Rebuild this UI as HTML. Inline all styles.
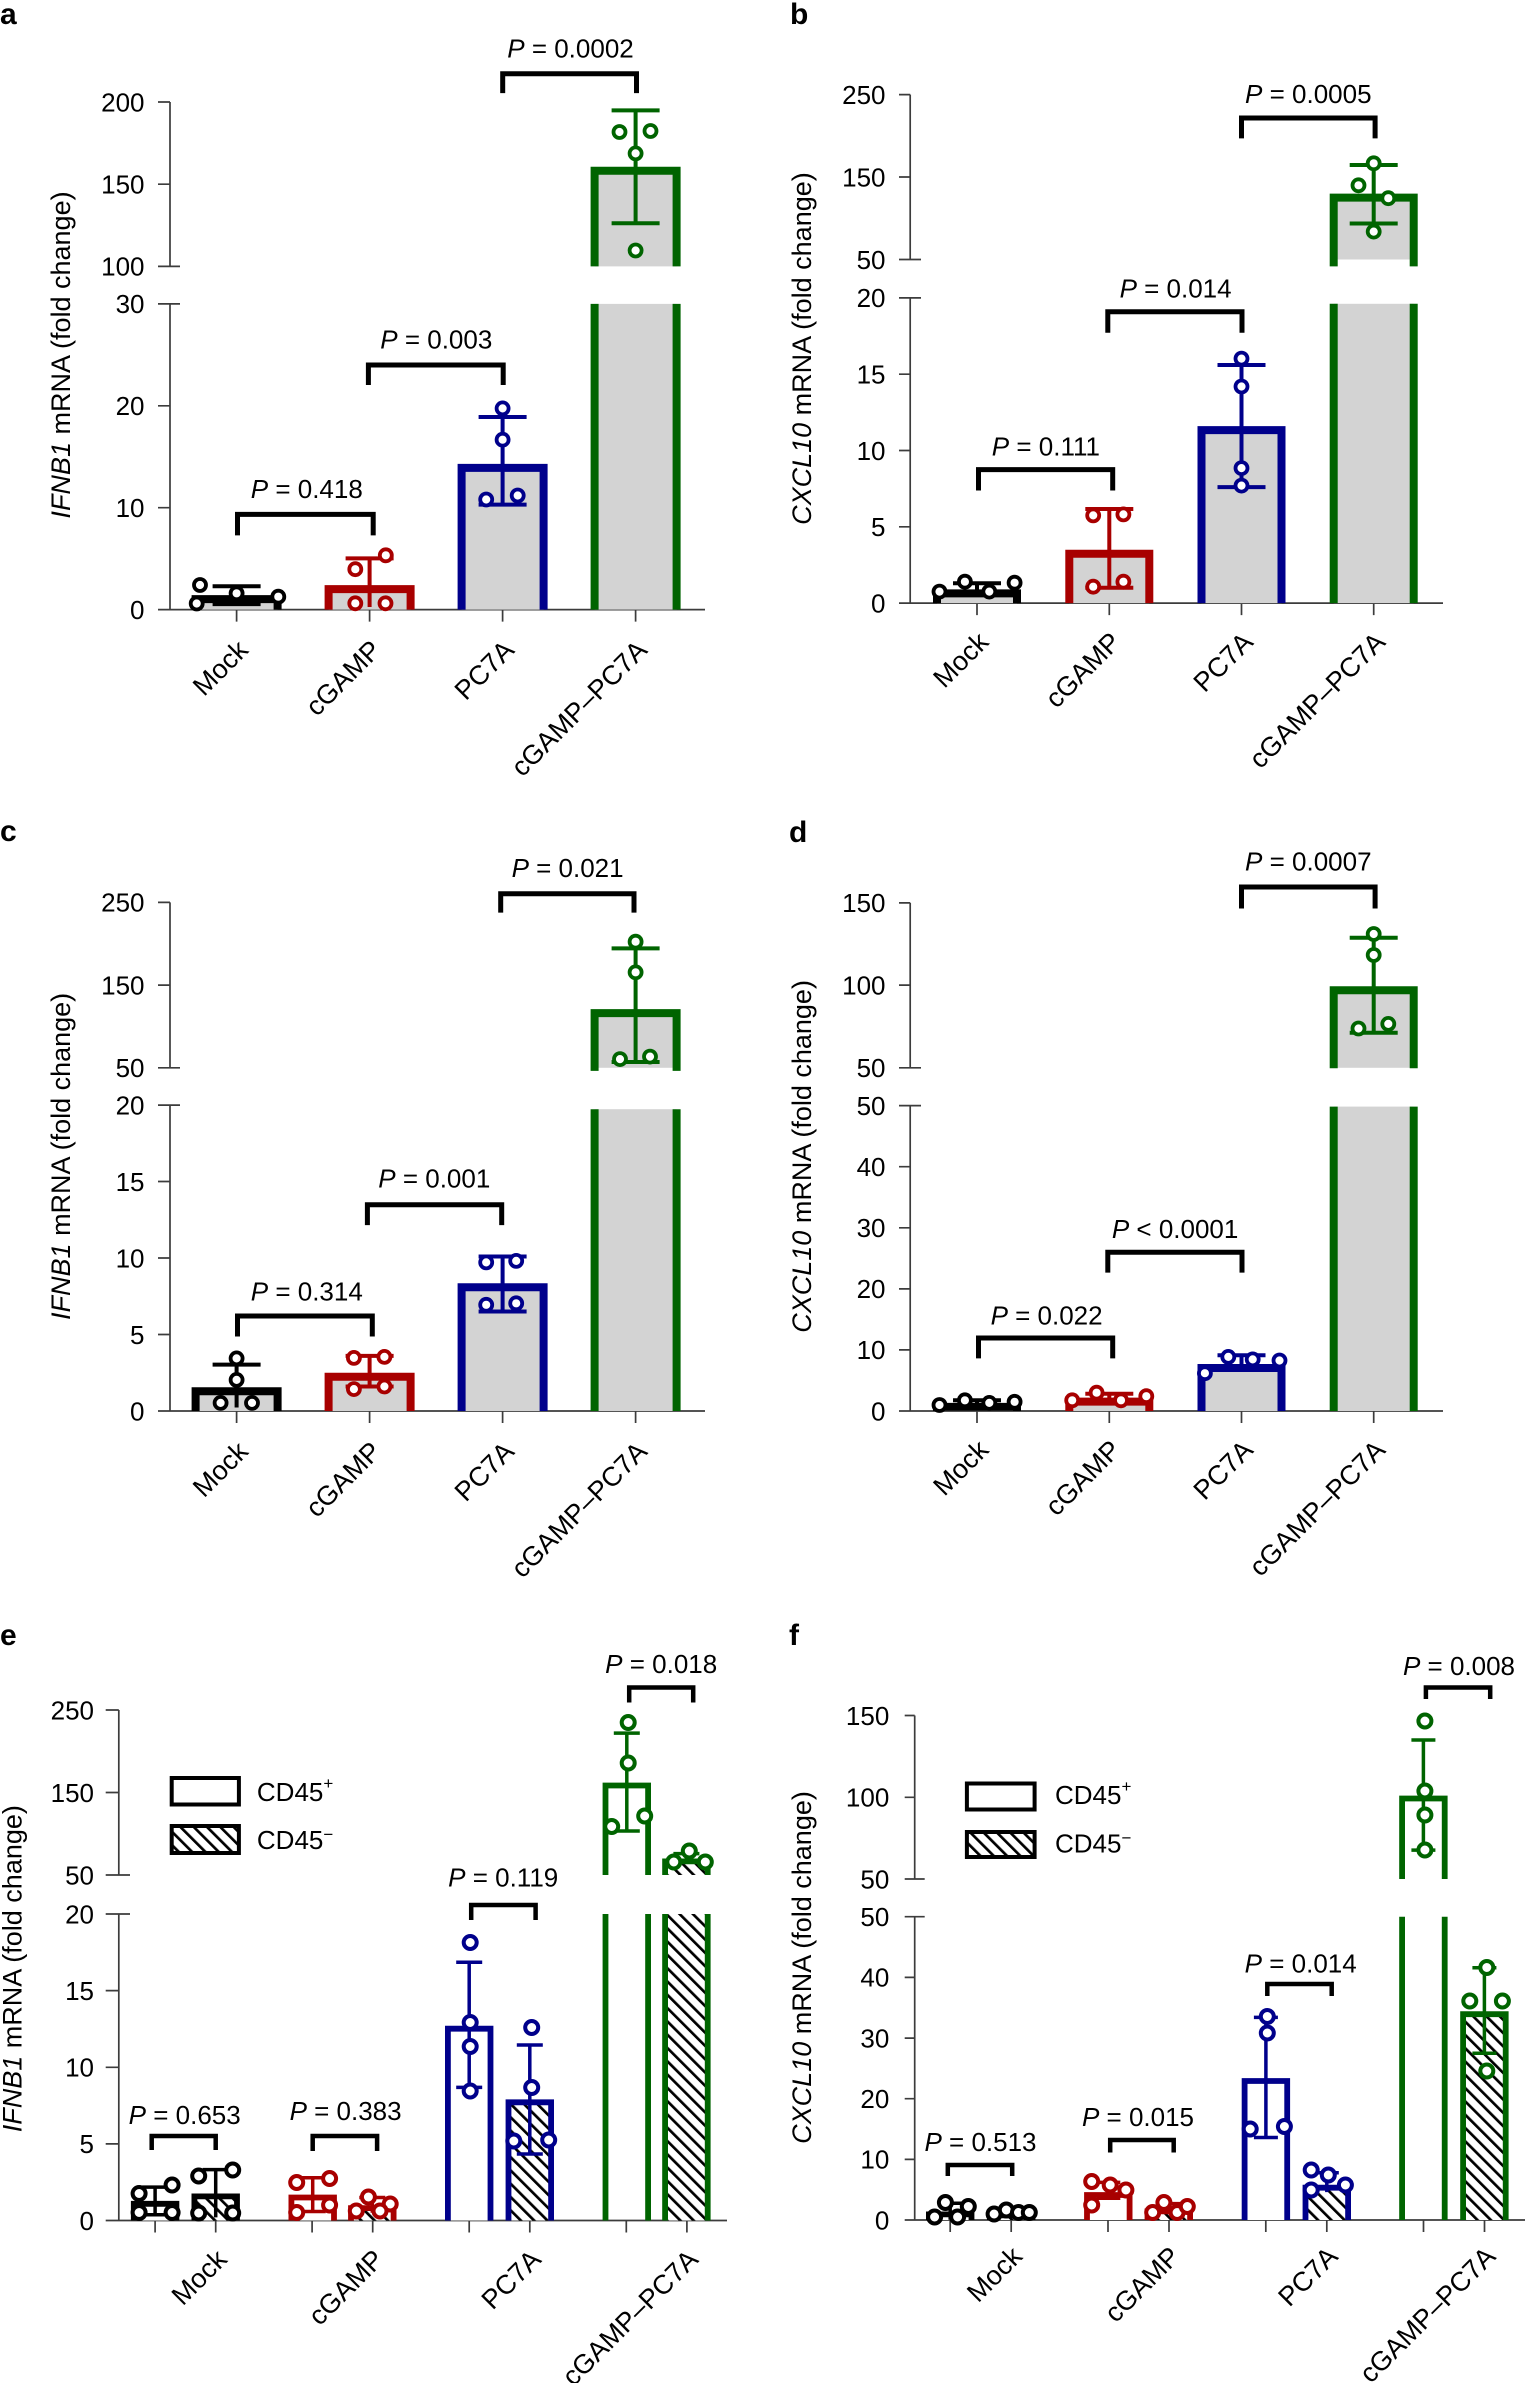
<!DOCTYPE html>
<html><head><meta charset="utf-8"><style>
html,body{margin:0;padding:0;background:#fff;}
svg{display:block;font-family:"Liberation Sans",Arial,sans-serif;}
.ax{stroke:#3c3c3c;stroke-width:1.7;fill:none}
.tl{font-size:26px;text-anchor:end}
.pv{font-size:26px;text-anchor:middle}
.xl{font-size:27px;text-anchor:end}
.yl{font-size:27px;text-anchor:middle}
.br{stroke:#000;stroke-width:5;fill:none}
.br2{stroke:#000;stroke-width:4.5;fill:none}
.lab{font-size:30px;font-weight:bold}
.m{fill:#fff;stroke-width:3.8}
.m2{fill:#fff;stroke-width:4}
</style></head><body>
<svg width="1525" height="2383" viewBox="0 0 1525 2383" xmlns="http://www.w3.org/2000/svg">
<defs>
<pattern id="hatch" patternUnits="userSpaceOnUse" width="9.4" height="9.4" patternTransform="rotate(-45)">
<rect width="9.4" height="9.4" fill="#fff"/><rect width="2.7" height="9.4" fill="#000"/>
</pattern>
</defs>
<rect width="1525" height="2383" fill="#fff"/>

<!-- ================= PANEL A ================= -->
<text class="lab" x="0" y="24">a</text>
<path class="ax" d="M170,102V266.4M170,303.9V609.6M158,102H170M158,184.2H170M158,266.4H180M158,303.9H180M158,405.8H170M158,507.7H170M158,609.6H705M236.6,609.6V621.6M369.6,609.6V621.6M502.6,609.6V621.6M635.6,609.6V621.6"/>
<text class="tl" x="144.5" y="111.3">200</text>
<text class="tl" x="144.5" y="193.5">150</text>
<text class="tl" x="144.5" y="275.7">100</text>
<text class="tl" x="144.5" y="313.2">30</text>
<text class="tl" x="144.5" y="415.1">20</text>
<text class="tl" x="144.5" y="517">10</text>
<text class="tl" x="144.5" y="618.9">0</text>
<text class="yl" transform="translate(70,355) rotate(-90)"><tspan font-style="italic">IFNB1</tspan> mRNA (fold change)</text>
<path d="M195.6,609.6V599.1H277.6V609.6" fill="#d3d3d3" stroke="#000" stroke-width="8"/>
<path d="M328.6,609.6V589.1H410.6V609.6" fill="#d3d3d3" stroke="#a80000" stroke-width="8"/>
<path d="M461.6,609.6V467.9H543.6V609.6" fill="#d3d3d3" stroke="#00008b" stroke-width="8"/>
<path d="M594.6,266.4V170.8H676.6V266.4" fill="#d3d3d3" stroke="#006400" stroke-width="8"/>
<rect x="594.6" y="303.9" width="82" height="305.7" fill="#d3d3d3"/>
<path d="M594.6,303.9V609.6M676.6,303.9V609.6" stroke="#006400" stroke-width="8" fill="none"/>
<path d="M236.6,604.1V586.2M212.6,586.2H260.6M212.6,604.1H260.6" stroke="#000" stroke-width="4" fill="none"/>
<path d="M369.6,607V558.4M345.6,558.4H393.6" stroke="#a80000" stroke-width="4" fill="none"/>
<path d="M502.6,504.6V417M478.6,417H526.6M478.6,504.6H526.6" stroke="#00008b" stroke-width="4" fill="none"/>
<path d="M635.6,223.2V110.4M611.6,110.4H659.6M611.6,223.2H659.6" stroke="#006400" stroke-width="4" fill="none"/>
<g stroke="#000" class="m"><circle cx="200" cy="585" r="6"/><circle cx="236.6" cy="593.3" r="6"/><circle cx="278.3" cy="596.7" r="6"/><circle cx="196.7" cy="603.5" r="6"/></g>
<g stroke="#a80000" class="m"><circle cx="385.8" cy="555.3" r="6"/><circle cx="355.3" cy="569.2" r="6"/><circle cx="355.3" cy="603.3" r="6"/><circle cx="385.5" cy="603.3" r="6"/></g>
<g stroke="#00008b" class="m"><circle cx="502.6" cy="408.4" r="6"/><circle cx="502.6" cy="439.7" r="6"/><circle cx="486.2" cy="499.5" r="6"/><circle cx="517.7" cy="495.5" r="6"/></g>
<g stroke="#006400" class="m"><circle cx="619.5" cy="132" r="6"/><circle cx="650.5" cy="131" r="6"/><circle cx="635.6" cy="153.4" r="6"/><circle cx="635.6" cy="250.5" r="6"/></g>
<path class="br" d="M237.5,535.4V514.4H373.2V535.4M368.4,385V365H503.2V385M502.7,93.1V73.7H636.5V93.1"/>
<text class="pv" x="306.8" y="498"><tspan font-style="italic">P</tspan> = 0.418</text>
<text class="pv" x="436.3" y="348.6"><tspan font-style="italic">P</tspan> = 0.003</text>
<text class="pv" x="570.5" y="57.3"><tspan font-style="italic">P</tspan> = 0.0002</text>
<text class="xl" transform="translate(249.6,651.6) rotate(-45)">Mock</text>
<text class="xl" transform="translate(382.6,651.6) rotate(-45)">cGAMP</text>
<text class="xl" transform="translate(515.6,651.6) rotate(-45)">PC7A</text>
<text class="xl" transform="translate(648.6,651.6) rotate(-45)">cGAMP–PC7A</text>

<!-- ================= PANEL B ================= -->
<text class="lab" x="790" y="24">b</text>
<path class="ax" d="M910.2,94.6V259.5M910.2,297.9V603.1M899,94.6H910.2M899,177H910.2M899,259.5H921M899,297.9H921M899,374.2H910.2M899,450.5H910.2M899,526.8H910.2M899,603.1H1443M977,603.1V615.1M1109.3,603.1V615.1M1241.5,603.1V615.1M1373.7,603.1V615.1"/>
<text class="tl" x="885.5" y="103.9">250</text>
<text class="tl" x="885.5" y="186.3">150</text>
<text class="tl" x="885.5" y="268.8">50</text>
<text class="tl" x="885.5" y="307.2">20</text>
<text class="tl" x="885.5" y="383.5">15</text>
<text class="tl" x="885.5" y="459.8">10</text>
<text class="tl" x="885.5" y="536.1">5</text>
<text class="tl" x="885.5" y="612.4">0</text>
<text class="yl" transform="translate(811,348.6) rotate(-90)"><tspan font-style="italic">CXCL10</tspan> mRNA (fold change)</text>
<path d="M937,603.1V593.4H1017V603.1" fill="#d3d3d3" stroke="#000" stroke-width="8"/>
<path d="M1069.3,603.1V553.7H1149.3V603.1" fill="#d3d3d3" stroke="#a80000" stroke-width="8"/>
<path d="M1201.5,603.1V430.1H1281.5V603.1" fill="#d3d3d3" stroke="#00008b" stroke-width="8"/>
<rect x="1333.7" y="197.6" width="80" height="61.9" fill="#d3d3d3"/>
<path d="M1333.7,266.4V197.6H1413.7V266.4" fill="none" stroke="#006400" stroke-width="8"/>
<rect x="1333.7" y="303.8" width="80" height="299.3" fill="#d3d3d3"/>
<path d="M1333.7,303.8V603.1M1413.7,303.8V603.1" stroke="#006400" stroke-width="8" fill="none"/>
<path d="M977,594V583.3M953,583.3H1001M953,594H1001" stroke="#000" stroke-width="4" fill="none"/>
<path d="M1109.3,587.8V509M1085.3,509H1133.3M1085.3,587.8H1133.3" stroke="#a80000" stroke-width="4" fill="none"/>
<path d="M1241.5,487.1V365M1217.5,365H1265.5M1217.5,487.1H1265.5" stroke="#00008b" stroke-width="4" fill="none"/>
<path d="M1373.7,223.5V165M1349.7,165H1397.7M1349.7,223.5H1397.7" stroke="#006400" stroke-width="4" fill="none"/>
<g stroke="#000" class="m"><circle cx="939.5" cy="591.6" r="6"/><circle cx="964.9" cy="581.7" r="6"/><circle cx="989.3" cy="591.6" r="6"/><circle cx="1014.6" cy="582.7" r="6"/></g>
<g stroke="#a80000" class="m"><circle cx="1093.2" cy="515.4" r="6"/><circle cx="1123.4" cy="514.4" r="6"/><circle cx="1093.2" cy="586.7" r="6"/><circle cx="1123.4" cy="581.7" r="6"/></g>
<g stroke="#00008b" class="m"><circle cx="1241.5" cy="358.6" r="6"/><circle cx="1241.5" cy="386.5" r="6"/><circle cx="1241.5" cy="468.1" r="6"/><circle cx="1241.5" cy="485.6" r="6"/></g>
<g stroke="#006400" class="m"><circle cx="1373.7" cy="163.3" r="6"/><circle cx="1358.5" cy="185.3" r="6"/><circle cx="1388.3" cy="198.2" r="6"/><circle cx="1373.7" cy="231.6" r="6"/></g>
<path class="br" d="M978.5,490.5V469.6H1112.7V490.5M1107.8,332.7V311.8H1242V332.7M1241.5,138.4V118H1375.1V138.4"/>
<text class="pv" x="1045.9" y="455.7"><tspan font-style="italic">P</tspan> = 0.111</text>
<text class="pv" x="1175.6" y="297.3"><tspan font-style="italic">P</tspan> = 0.014</text>
<text class="pv" x="1308.3" y="103.1"><tspan font-style="italic">P</tspan> = 0.0005</text>
<text class="xl" transform="translate(990,643.6) rotate(-45)">Mock</text>
<text class="xl" transform="translate(1122.3,643.6) rotate(-45)">cGAMP</text>
<text class="xl" transform="translate(1254.5,643.6) rotate(-45)">PC7A</text>
<text class="xl" transform="translate(1386.7,643.6) rotate(-45)">cGAMP–PC7A</text>

<!-- ================= PANEL C ================= -->
<text class="lab" x="0" y="841">c</text>
<path class="ax" d="M170,902.4V1067.8M170,1105.1V1411M158,902.4H170M158,985.1H170M158,1067.8H180M158,1105.1H180M158,1181.5H170M158,1258H170M158,1334.5H170M158,1411H705M236.6,1411V1423M369.6,1411V1423M502.6,1411V1423M635.6,1411V1423"/>
<text class="tl" x="144.5" y="911.7">250</text>
<text class="tl" x="144.5" y="994.4">150</text>
<text class="tl" x="144.5" y="1077.1">50</text>
<text class="tl" x="144.5" y="1114.4">20</text>
<text class="tl" x="144.5" y="1190.8">15</text>
<text class="tl" x="144.5" y="1267.3">10</text>
<text class="tl" x="144.5" y="1343.8">5</text>
<text class="tl" x="144.5" y="1420.3">0</text>
<text class="yl" transform="translate(70,1156.4) rotate(-90)"><tspan font-style="italic">IFNB1</tspan> mRNA (fold change)</text>
<path d="M195.6,1411V1391.3H277.6V1411" fill="#d3d3d3" stroke="#000" stroke-width="8"/>
<path d="M328.6,1411V1376.8H410.6V1411" fill="#d3d3d3" stroke="#a80000" stroke-width="8"/>
<path d="M461.6,1411V1287.2H543.6V1411" fill="#d3d3d3" stroke="#00008b" stroke-width="8"/>
<rect x="594.6" y="1013.1" width="82" height="54.7" fill="#d3d3d3"/>
<path d="M594.6,1070.9V1013.1H676.6V1070.9" fill="none" stroke="#006400" stroke-width="8"/>
<rect x="594.6" y="1109.2" width="82" height="301.8" fill="#d3d3d3"/>
<path d="M594.6,1109.2V1411M676.6,1109.2V1411" stroke="#006400" stroke-width="8" fill="none"/>
<path d="M236.6,1407.5V1364.6M212.6,1364.6H260.6" stroke="#000" stroke-width="4" fill="none"/>
<path d="M369.6,1386.5V1355.9M345.6,1355.9H393.6M345.6,1386.5H393.6" stroke="#a80000" stroke-width="4" fill="none"/>
<path d="M502.6,1311.5V1256.5M478.6,1256.5H526.6M478.6,1311.5H526.6" stroke="#00008b" stroke-width="4" fill="none"/>
<path d="M635.6,1062V948.4M611.6,948.4H659.6M611.6,1062H659.6" stroke="#006400" stroke-width="4" fill="none"/>
<g stroke="#000" class="m"><circle cx="236.6" cy="1358.4" r="6"/><circle cx="236.6" cy="1379.9" r="6"/><circle cx="220.6" cy="1402.9" r="6"/><circle cx="252" cy="1402.9" r="6"/></g>
<g stroke="#a80000" class="m"><circle cx="353.9" cy="1357.9" r="6"/><circle cx="384.4" cy="1356.9" r="6"/><circle cx="353.9" cy="1389.1" r="6"/><circle cx="384.4" cy="1386.5" r="6"/></g>
<g stroke="#00008b" class="m"><circle cx="486.2" cy="1262.4" r="6"/><circle cx="516.2" cy="1260.9" r="6"/><circle cx="486.2" cy="1304.8" r="6"/><circle cx="516.2" cy="1303.3" r="6"/></g>
<g stroke="#006400" class="m"><circle cx="635.6" cy="941.7" r="6"/><circle cx="635.6" cy="972.3" r="6"/><circle cx="620" cy="1059.1" r="6"/><circle cx="650" cy="1056.6" r="6"/></g>
<path class="br" d="M237.5,1336.5V1316H372.3V1336.5M367.4,1225.1V1204.7H501.7V1225.1M500.7,912.6V893.7H634V912.6"/>
<text class="pv" x="306.8" y="1300.7"><tspan font-style="italic">P</tspan> = 0.314</text>
<text class="pv" x="434.3" y="1187.3"><tspan font-style="italic">P</tspan> = 0.001</text>
<text class="pv" x="567.6" y="876.8"><tspan font-style="italic">P</tspan> = 0.021</text>
<text class="xl" transform="translate(249.6,1453) rotate(-45)">Mock</text>
<text class="xl" transform="translate(382.6,1453) rotate(-45)">cGAMP</text>
<text class="xl" transform="translate(515.6,1453) rotate(-45)">PC7A</text>
<text class="xl" transform="translate(648.6,1453) rotate(-45)">cGAMP–PC7A</text>

<!-- ================= PANEL D ================= -->
<text class="lab" x="789" y="842">d</text>
<path class="ax" d="M910.2,902.9V1067.8M910.2,1105.6V1411M899,902.9H910.2M899,985.1H910.2M899,1067.8H921M899,1105.6H921M899,1166.7H910.2M899,1227.8H910.2M899,1288.9H910.2M899,1349.9H910.2M899,1411H1443M977,1411V1423M1109.3,1411V1423M1241.5,1411V1423M1373.7,1411V1423"/>
<text class="tl" x="885.5" y="912.2">150</text>
<text class="tl" x="885.5" y="994.4">100</text>
<text class="tl" x="885.5" y="1077.1">50</text>
<text class="tl" x="885.5" y="1114.9">50</text>
<text class="tl" x="885.5" y="1176">40</text>
<text class="tl" x="885.5" y="1237.1">30</text>
<text class="tl" x="885.5" y="1298.2">20</text>
<text class="tl" x="885.5" y="1359.2">10</text>
<text class="tl" x="885.5" y="1420.3">0</text>
<text class="yl" transform="translate(811,1156.4) rotate(-90)"><tspan font-style="italic">CXCL10</tspan> mRNA (fold change)</text>
<path d="M937,1411V1406.9H1017V1411" fill="#d3d3d3" stroke="#000" stroke-width="8"/>
<path d="M1069.3,1411V1401.6H1149.3V1411" fill="#d3d3d3" stroke="#a80000" stroke-width="8"/>
<path d="M1201.5,1411V1368H1281.5V1411" fill="#d3d3d3" stroke="#00008b" stroke-width="8"/>
<rect x="1333.7" y="990.2" width="80" height="77.6" fill="#d3d3d3"/>
<path d="M1333.7,1068.3V990.2H1413.7V1068.3" fill="none" stroke="#006400" stroke-width="8"/>
<rect x="1333.7" y="1106.6" width="80" height="304.4" fill="#d3d3d3"/>
<path d="M1333.7,1106.6V1411M1413.7,1106.6V1411" stroke="#006400" stroke-width="8" fill="none"/>
<path d="M977,1405.5V1400.2M953,1400.2H1001" stroke="#000" stroke-width="4" fill="none"/>
<path d="M1109.3,1401V1393.7M1085.3,1393.7H1133.3" stroke="#a80000" stroke-width="4" fill="none"/>
<path d="M1241.5,1369.8V1355.2M1217.5,1355.2H1265.5M1217.5,1369.8H1265.5" stroke="#00008b" stroke-width="4" fill="none"/>
<path d="M1373.7,1032.7V937.7M1349.7,937.7H1397.7M1349.7,1032.7H1397.7" stroke="#006400" stroke-width="4" fill="none"/>
<g stroke="#000" class="m"><circle cx="939.5" cy="1405" r="6"/><circle cx="964.9" cy="1400.3" r="6"/><circle cx="989.3" cy="1402.9" r="6"/><circle cx="1014.6" cy="1401.8" r="6"/></g>
<g stroke="#a80000" class="m"><circle cx="1072.2" cy="1400.3" r="6"/><circle cx="1096.6" cy="1392.7" r="6"/><circle cx="1121" cy="1400.3" r="6"/><circle cx="1146.3" cy="1396.2" r="6"/></g>
<g stroke="#00008b" class="m"><circle cx="1204.9" cy="1373.2" r="6"/><circle cx="1228.3" cy="1356.9" r="6"/><circle cx="1252.7" cy="1359.4" r="6"/><circle cx="1279.5" cy="1360.5" r="6"/></g>
<g stroke="#006400" class="m"><circle cx="1373.7" cy="934" r="6"/><circle cx="1373.7" cy="955" r="6"/><circle cx="1358.5" cy="1028.5" r="6"/><circle cx="1388.3" cy="1023.9" r="6"/></g>
<path class="br" d="M978.5,1358.4V1338H1112.7V1358.4M1107.8,1272.6V1252.2H1242V1272.6M1241.5,908.5V887H1375.1V908.5"/>
<text class="pv" x="1046.6" y="1324.7"><tspan font-style="italic">P</tspan> = 0.022</text>
<text class="pv" x="1175.1" y="1237.9"><tspan font-style="italic">P</tspan> &lt; 0.0001</text>
<text class="pv" x="1308.3" y="870.7"><tspan font-style="italic">P</tspan> = 0.0007</text>
<text class="xl" transform="translate(990,1451.5) rotate(-45)">Mock</text>
<text class="xl" transform="translate(1122.3,1451.5) rotate(-45)">cGAMP</text>
<text class="xl" transform="translate(1254.5,1451.5) rotate(-45)">PC7A</text>
<text class="xl" transform="translate(1386.7,1451.5) rotate(-45)">cGAMP–PC7A</text>

<!-- ================= PANEL E ================= -->
<text class="lab" x="0" y="1645">e</text>
<path class="ax" d="M118.8,1710V1875M118.8,1914V2220.5M105.7,1710H118.8M105.7,1792.5H118.8M105.7,1875H130M105.7,1914H130M105.7,1990.6H118.8M105.7,2067.3H118.8M105.7,2143.9H118.8M105.7,2220.5H727M155.1,2220.5V2232.5M215.7,2220.5V2232.5M312.1,2220.5V2232.5M372.7,2220.5V2232.5M469.2,2220.5V2232.5M529.8,2220.5V2232.5M626.3,2220.5V2232.5M686.9,2220.5V2232.5"/>
<text class="tl" x="94" y="1719.3">250</text>
<text class="tl" x="94" y="1801.8">150</text>
<text class="tl" x="94" y="1884.3">50</text>
<text class="tl" x="94" y="1923.3">20</text>
<text class="tl" x="94" y="1999.9">15</text>
<text class="tl" x="94" y="2076.6">10</text>
<text class="tl" x="94" y="2153.2">5</text>
<text class="tl" x="94" y="2229.8">0</text>
<text class="yl" transform="translate(21.5,1968.7) rotate(-90)"><tspan font-style="italic">IFNB1</tspan> mRNA (fold change)</text>
<rect x="171.7" y="1778" width="67.2" height="26.5" fill="#fff" stroke="#000" stroke-width="4"/>
<rect x="171.7" y="1826" width="67.2" height="27" fill="url(#hatch)" stroke="#000" stroke-width="4"/>
<text x="256.9" y="1801" font-size="26">CD45<tspan font-size="17" dy="-12">+</tspan></text>
<text x="256.9" y="1849" font-size="26">CD45<tspan font-size="17" dy="-9">−</tspan></text>
<path d="M133.8,2220.5V2203.8H176.4V2220.5" fill="#fff" stroke="#000" stroke-width="5.8"/>
<path d="M194.4,2220.5V2196.4H237V2220.5" fill="url(#hatch)" stroke="#000" stroke-width="5.8"/>
<path d="M291.4,2220.5V2197.5H334V2220.5" fill="#fff" stroke="#a80000" stroke-width="5.8"/>
<path d="M351,2220.5V2208.1H393.6V2220.5" fill="url(#hatch)" stroke="#a80000" stroke-width="5.8"/>
<path d="M447.9,2220.5V2028.7H490.5V2220.5" fill="#fff" stroke="#00008b" stroke-width="5.8"/>
<path d="M508.5,2220.5V2102.3H551.1V2220.5" fill="url(#hatch)" stroke="#00008b" stroke-width="5.8"/>
<path d="M605.5,1875V1785.5H648.1V1875" fill="#fff" stroke="#006400" stroke-width="5.8"/>
<path d="M605.5,1914V2220.5M648.1,1914V2220.5" fill="none" stroke="#006400" stroke-width="5.8"/>
<path d="M665.1,1875V1861.4H707.7V1875" fill="url(#hatch)" stroke="#006400" stroke-width="5.8"/>
<rect x="665.1" y="1914" width="42.6" height="306.5" fill="url(#hatch)"/>
<path d="M665.1,1914V2220.5M707.7,1914V2220.5" fill="none" stroke="#006400" stroke-width="5.8"/>
<path d="M155.1,2214.7V2187.1M142.1,2187.1H168.1M142.1,2214.7H168.1" stroke="#000" stroke-width="3.5" fill="none"/>
<path d="M215.7,2217.4V2169.6M202.7,2169.6H228.7" stroke="#000" stroke-width="3.5" fill="none"/>
<path d="M312.7,2211.5V2177.7M299.7,2177.7H325.7M299.7,2211.5H325.7" stroke="#a80000" stroke-width="3.5" fill="none"/>
<path d="M372.3,2212.8V2197.5M359.3,2197.5H385.3" stroke="#a80000" stroke-width="3.5" fill="none"/>
<path d="M469.2,2087.4V1962.3M456.2,1962.3H482.2M456.2,2087.4H482.2" stroke="#00008b" stroke-width="3.5" fill="none"/>
<path d="M529.8,2154V2045M516.8,2045H542.8M516.8,2154H542.8" stroke="#00008b" stroke-width="3.5" fill="none"/>
<path d="M626.8,1831V1733.1M613.8,1733.1H639.8M613.8,1831H639.8" stroke="#006400" stroke-width="3.5" fill="none"/>
<path d="M686.4,1863.5V1853.6M673.4,1853.6H699.4" stroke="#006400" stroke-width="3.5" fill="none"/>
<g stroke="#000" class="m2"><circle cx="139.1" cy="2193.5" r="6.5"/><circle cx="172.1" cy="2185" r="6.5"/><circle cx="139.1" cy="2212.5" r="6.5"/><circle cx="172.1" cy="2212.5" r="6.5"/><circle cx="198.7" cy="2176" r="6.5"/><circle cx="232.7" cy="2170" r="6.5"/><circle cx="198.7" cy="2213" r="6.5"/><circle cx="232.7" cy="2213" r="6.5"/></g>
<g stroke="#a80000" class="m2"><circle cx="296.7" cy="2182.5" r="6.5"/><circle cx="329.6" cy="2178.5" r="6.5"/><circle cx="296.7" cy="2212.5" r="6.5"/><circle cx="329.6" cy="2205" r="6.5"/><circle cx="356.3" cy="2211" r="6.5"/><circle cx="368.4" cy="2197" r="6.5"/><circle cx="390.2" cy="2204" r="6.5"/><circle cx="380" cy="2211" r="6.5"/></g>
<g stroke="#00008b" class="m2"><circle cx="470.2" cy="1942.5" r="6.5"/><circle cx="470.2" cy="2022.5" r="6.5"/><circle cx="470.2" cy="2046.5" r="6.5"/><circle cx="470.2" cy="2091" r="6.5"/><circle cx="531.7" cy="2027.5" r="6.5"/><circle cx="531.7" cy="2087.5" r="6.5"/><circle cx="513.8" cy="2141" r="6.5"/><circle cx="548.7" cy="2140" r="6.5"/></g>
<g stroke="#006400" class="m2"><circle cx="628.2" cy="1722.5" r="6.5"/><circle cx="628.2" cy="1763" r="6.5"/><circle cx="611.7" cy="1826.5" r="6.5"/><circle cx="644.7" cy="1816" r="6.5"/><circle cx="673.8" cy="1862" r="6.5"/><circle cx="689.3" cy="1851" r="6.5"/><circle cx="705.3" cy="1862" r="6.5"/></g>
<path class="br2" d="M151.7,2150V2136H215.7V2150M312.7,2151V2136H377.1V2151M471.2,1920V1905H535.6V1920M629.2,1702.5V1687.5H693.2V1702.5"/>
<text class="pv" x="184.7" y="2124"><tspan font-style="italic">P</tspan> = 0.653</text>
<text class="pv" x="345.6" y="2120"><tspan font-style="italic">P</tspan> = 0.383</text>
<text class="pv" x="503.2" y="1886.5"><tspan font-style="italic">P</tspan> = 0.119</text>
<text class="pv" x="661.2" y="1673"><tspan font-style="italic">P</tspan> = 0.018</text>
<text class="xl" transform="translate(228.4,2261) rotate(-45)">Mock</text>
<text class="xl" transform="translate(385.4,2261) rotate(-45)">cGAMP</text>
<text class="xl" transform="translate(542.5,2261) rotate(-45)">PC7A</text>
<text class="xl" transform="translate(699.6,2261) rotate(-45)">cGAMP–PC7A</text>

<!-- ================= PANEL F ================= -->
<text class="lab" x="789" y="1645">f</text>
<path class="ax" d="M914.7,1715.5V1879M914.7,1916.7V2220M904.7,1715.5H914.7M904.7,1797.3H914.7M904.7,1879H924.7M904.7,1916.7H924.7M904.7,1977.4H914.7M904.7,2038.1H914.7M904.7,2098.7H914.7M904.7,2159.4H914.7M904.7,2220H1525M950.2,2220V2232M1011.2,2220V2232M1108,2220V2232M1169,2220V2232M1265.8,2220V2232M1326.8,2220V2232M1423.5,2220V2232M1484.5,2220V2232"/>
<text class="tl" x="889.3" y="1724.8">150</text>
<text class="tl" x="889.3" y="1806.6">100</text>
<text class="tl" x="889.3" y="1888.3">50</text>
<text class="tl" x="889.3" y="1926">50</text>
<text class="tl" x="889.3" y="1986.7">40</text>
<text class="tl" x="889.3" y="2047.4">30</text>
<text class="tl" x="889.3" y="2108">20</text>
<text class="tl" x="889.3" y="2168.7">10</text>
<text class="tl" x="889.3" y="2229.3">0</text>
<text class="yl" transform="translate(811,1967.5) rotate(-90)"><tspan font-style="italic">CXCL10</tspan> mRNA (fold change)</text>
<rect x="966.9" y="1783.5" width="67.7" height="26" fill="#fff" stroke="#000" stroke-width="4"/>
<rect x="966.9" y="1832" width="67.7" height="25" fill="url(#hatch)" stroke="#000" stroke-width="4"/>
<text x="1055" y="1804" font-size="26">CD45<tspan font-size="17" dy="-12">+</tspan></text>
<text x="1055" y="1852.5" font-size="26">CD45<tspan font-size="17" dy="-9">−</tspan></text>
<path d="M928.9,2220V2214.4H971.5V2220" fill="#fff" stroke="#000" stroke-width="5.8"/>
<path d="M989.9,2220V2215.4H1032.5V2220" fill="url(#hatch)" stroke="#000" stroke-width="5.8"/>
<path d="M1087,2220V2195H1129.6V2220" fill="#fff" stroke="#a80000" stroke-width="5.8"/>
<path d="M1147.5,2220V2211.4H1190.1V2220" fill="url(#hatch)" stroke="#a80000" stroke-width="5.8"/>
<path d="M1244.6,2220V2081H1287.2V2220" fill="#fff" stroke="#00008b" stroke-width="5.8"/>
<path d="M1305.5,2220V2187.7H1348.1V2220" fill="url(#hatch)" stroke="#00008b" stroke-width="5.8"/>
<path d="M1402.1,1879V1798.5H1444.7V1879" fill="#fff" stroke="#006400" stroke-width="5.8"/>
<path d="M1402.1,1916.7V2220M1444.7,1916.7V2220" fill="none" stroke="#006400" stroke-width="5.8"/>
<path d="M1463.1,2220V2014.2H1505.7V2220" fill="url(#hatch)" stroke="#006400" stroke-width="5.8"/>
<path d="M950.2,2219.8V2203.2M938.2,2203.2H962.2" stroke="#000" stroke-width="3.5" fill="none"/>
<path d="M1011.2,2214.7V2210.4M999.2,2210.4H1023.2" stroke="#000" stroke-width="3.5" fill="none"/>
<path d="M1108.3,2198.2V2182.4M1096.3,2182.4H1120.3M1096.3,2198.2H1120.3" stroke="#a80000" stroke-width="3.5" fill="none"/>
<path d="M1168.8,2213.3V2203.6M1156.8,2203.6H1180.8" stroke="#a80000" stroke-width="3.5" fill="none"/>
<path d="M1265.9,2137.5V2017.4M1253.9,2017.4H1277.9M1253.9,2137.5H1277.9" stroke="#00008b" stroke-width="3.5" fill="none"/>
<path d="M1326.8,2192.1V2172.7M1314.8,2172.7H1338.8" stroke="#00008b" stroke-width="3.5" fill="none"/>
<path d="M1423.4,1850.1V1740M1411.4,1740H1435.4M1411.4,1850.1H1435.4" stroke="#006400" stroke-width="3.5" fill="none"/>
<path d="M1484.4,2053.2V1967.7M1472.4,1967.7H1496.4M1472.4,2053.2H1496.4" stroke="#006400" stroke-width="3.5" fill="none"/>
<g stroke="#000" class="m2"><circle cx="934.6" cy="2217" r="6.5"/><circle cx="945.4" cy="2202.5" r="6.5"/><circle cx="957.6" cy="2217" r="6.5"/><circle cx="968.3" cy="2206.5" r="6.5"/><circle cx="994.1" cy="2214" r="6.5"/><circle cx="1006.3" cy="2210" r="6.5"/><circle cx="1018.5" cy="2212.5" r="6.5"/><circle cx="1029.3" cy="2212.5" r="6.5"/></g>
<g stroke="#a80000" class="m2"><circle cx="1091.7" cy="2181.5" r="6.5"/><circle cx="1110.2" cy="2185" r="6.5"/><circle cx="1125.9" cy="2190" r="6.5"/><circle cx="1091.7" cy="2205" r="6.5"/><circle cx="1152.7" cy="2212.5" r="6.5"/><circle cx="1163.9" cy="2202.5" r="6.5"/><circle cx="1177.1" cy="2212.5" r="6.5"/><circle cx="1187.3" cy="2206.5" r="6.5"/></g>
<g stroke="#00008b" class="m2"><circle cx="1267.3" cy="2016.5" r="6.5"/><circle cx="1267.3" cy="2033" r="6.5"/><circle cx="1250.2" cy="2129" r="6.5"/><circle cx="1284.4" cy="2126.5" r="6.5"/><circle cx="1311.2" cy="2170" r="6.5"/><circle cx="1328.3" cy="2175" r="6.5"/><circle cx="1345.4" cy="2185" r="6.5"/><circle cx="1311.2" cy="2190" r="6.5"/></g>
<g stroke="#006400" class="m2"><circle cx="1424.9" cy="1721" r="6.5"/><circle cx="1424.9" cy="1791" r="6.5"/><circle cx="1424.9" cy="1815" r="6.5"/><circle cx="1424.9" cy="1850" r="6.5"/><circle cx="1486.8" cy="1967.5" r="6.5"/><circle cx="1469.8" cy="2001" r="6.5"/><circle cx="1502.4" cy="2001" r="6.5"/><circle cx="1486.8" cy="2071" r="6.5"/></g>
<path class="br2" d="M947.8,2176V2165H1012.2V2176M1110.2,2152.5V2140H1173.7V2152.5M1267.3,1996V1984H1331.7V1996M1425.9,1699V1687.5H1490.2V1699"/>
<text class="pv" x="980.5" y="2151"><tspan font-style="italic">P</tspan> = 0.513</text>
<text class="pv" x="1138" y="2126"><tspan font-style="italic">P</tspan> = 0.015</text>
<text class="pv" x="1300.7" y="1972.5"><tspan font-style="italic">P</tspan> = 0.014</text>
<text class="pv" x="1459" y="1675"><tspan font-style="italic">P</tspan> = 0.008</text>
<text class="xl" transform="translate(1023.7,2258) rotate(-45)">Mock</text>
<text class="xl" transform="translate(1181.5,2258) rotate(-45)">cGAMP</text>
<text class="xl" transform="translate(1339.3,2258) rotate(-45)">PC7A</text>
<text class="xl" transform="translate(1497,2258) rotate(-45)">cGAMP–PC7A</text>
</svg>
</body></html>
